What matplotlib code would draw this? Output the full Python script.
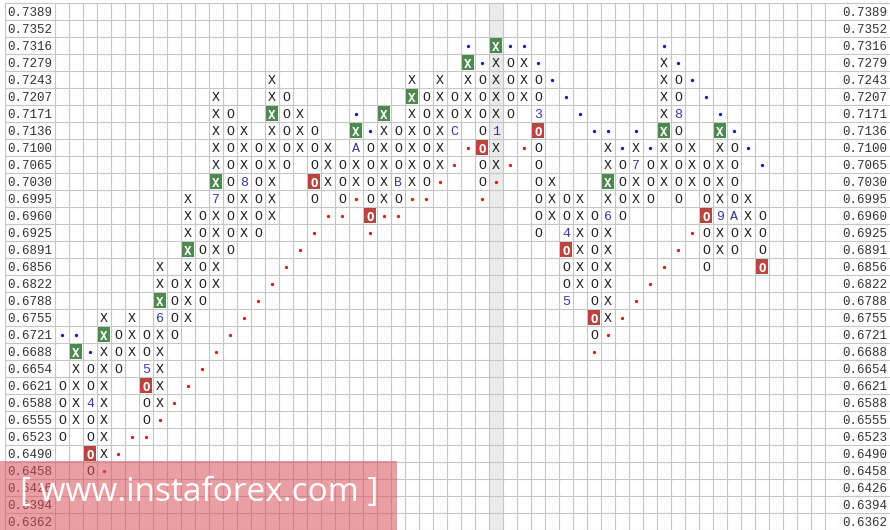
import matplotlib
matplotlib.use("Agg")
import matplotlib.pyplot as plt
from matplotlib.patches import Rectangle
import numpy as np

# ---------------- data ----------------
price_levels = ['0.7389', '0.7352', '0.7316', '0.7279', '0.7243', '0.7207', '0.7171',
                '0.7136', '0.7100', '0.7065', '0.7030', '0.6995', '0.6960', '0.6925',
                '0.6891', '0.6856', '0.6822', '0.6788', '0.6755', '0.6721', '0.6688',
                '0.6654', '0.6621', '0.6588', '0.6555', '0.6523', '0.6490', '0.6458',
                '0.6426', '0.6394', '0.6362']

col_types = list("OX" * 25 + "O")

col_high = ['0.6621', '0.6688', '0.6654', '0.6755', '0.6721', '0.6755', '0.6721', '0.6856',
            '0.6822', '0.6995', '0.6960', '0.7207', '0.7171', '0.7136', '0.7100', '0.7243',
            '0.7207', '0.7171', '0.7136', '0.7100', '0.7065', '0.7136', '0.7100', '0.7171',
            '0.7136', '0.7243', '0.7207', '0.7243', '0.7207', '0.7279', '0.7243', '0.7316',
            '0.7279', '0.7279', '0.7243', '0.7030', '0.6995', '0.6995', '0.6960', '0.7100',
            '0.7065', '0.7100', '0.7065', '0.7279', '0.7243', '0.7100', '0.7065', '0.7136',
            '0.7100', '0.6995', '0.6960']
col_low = ['0.6523', '0.6555', '0.6458', '0.6490', '0.6654', '0.6688', '0.6555', '0.6588',
           '0.6721', '0.6755', '0.6788', '0.6822', '0.6891', '0.6925', '0.6925', '0.6960',
           '0.7065', '0.7100', '0.6995', '0.7030', '0.6995', '0.7030', '0.6960', '0.6995',
           '0.6995', '0.7030', '0.7030', '0.7065', '0.7136', '0.7171', '0.7030', '0.7065',
           '0.7171', '0.7207', '0.6925', '0.6960', '0.6788', '0.6822', '0.6721', '0.6755',
           '0.6960', '0.6995', '0.6995', '0.7030', '0.6995', '0.7030', '0.6856', '0.6891',
           '0.6891', '0.6925', '0.6856']

# month markers (column, price, label)
mark_cols = [2, 6, 7, 11, 13, 21, 24, 28, 31, 34, 36, 36, 39, 41, 44, 47, 48]
mark_prices = ['0.6588', '0.6654', '0.6755', '0.6995', '0.7030', '0.7100', '0.7030', '0.7136',
               '0.7136', '0.7171', '0.6925', '0.6788', '0.6960', '0.7065', '0.7171', '0.6960',
               '0.6960']
mark_labels = ['4', '5', '6', '7', '8', 'A', 'B', 'C', '1', '3', '4', '5', '6', '7', '8', '9', 'A']

# buy signals (green boxes)
buy_cols = [1, 3, 7, 9, 11, 15, 21, 23, 25, 29, 31, 39, 43, 47]
buy_prices = ['0.6688', '0.6721', '0.6788', '0.6891', '0.7030', '0.7171', '0.7136', '0.7171',
              '0.7207', '0.7279', '0.7316', '0.7030', '0.7136', '0.7136']
# sell signals (red boxes)
sell_cols = [2, 6, 18, 22, 30, 34, 36, 38, 46, 50]
sell_prices = ['0.6490', '0.6621', '0.7030', '0.6960', '0.7100', '0.7136', '0.6891', '0.6755',
               '0.6960', '0.6856']

# trend lines
blue_cols = [0, 1, 2, 21, 22, 29, 30, 32, 33, 34, 35, 36, 37, 38, 39, 40, 41, 42,
             43, 44, 45, 46, 47, 48, 49, 50]
blue_prices = ['0.6721', '0.6721', '0.6688', '0.7171', '0.7136', '0.7316', '0.7279', '0.7316',
               '0.7316', '0.7279', '0.7243', '0.7207', '0.7171', '0.7136', '0.7136', '0.7100',
               '0.7136', '0.7100', '0.7316', '0.7279', '0.7243', '0.7207', '0.7171', '0.7136',
               '0.7100', '0.7065']
red_cols = [3, 4, 5, 6, 7, 8, 9, 10, 11, 12, 13, 14, 15, 16, 17, 18, 19, 20, 21, 22, 23, 24,
            25, 26, 27, 28, 29, 30, 31, 32, 33, 38, 39, 40, 41, 42, 43, 44, 45]
red_prices = ['0.6458', '0.6490', '0.6523', '0.6523', '0.6555', '0.6588', '0.6621', '0.6654',
              '0.6688', '0.6721', '0.6755', '0.6788', '0.6822', '0.6856', '0.6891', '0.6925',
              '0.6960', '0.6960', '0.6995', '0.6925', '0.6960', '0.6960', '0.6995', '0.6995',
              '0.7030', '0.7065', '0.7100', '0.6995', '0.7030', '0.7065', '0.7100', '0.6688',
              '0.6721', '0.6755', '0.6788', '0.6822', '0.6856', '0.6891', '0.6925']

current_col = 31
n_grid_cols = 56

# ---------------- drawing ----------------
W, H = 890, 530
fig = plt.figure(figsize=(W / 100, H / 100), dpi=100)
fig.patch.set_facecolor('white')
ax = fig.add_axes([55 / W, 0, 784 / W, (H - 3.2) / H])
ax.set_xlim(-0.5, n_grid_cols - 0.5)
ax.set_ylim(len(price_levels) - 0.5, -0.5)
for s in ax.spines.values():
    s.set_visible(False)

row = {p: i for i, p in enumerate(price_levels)}
grid_c = '#c6c6c6'
mono = 'Liberation Mono'

ax.axvspan(current_col - 0.5, current_col + 0.5, color='#ebebeb', zorder=0, lw=0)
ax.vlines(np.arange(-0.5, n_grid_cols), -0.5, len(price_levels) - 0.5,
          color=grid_c, lw=0.8, zorder=1)
ax.hlines(np.arange(-0.5, len(price_levels)), -50 / 784, 835 / 784,
          transform=ax.get_yaxis_transform(), color=grid_c, lw=0.8, zorder=1, clip_on=False)
ax.plot([-50 / 784, -50 / 784], [0, 1], transform=ax.transAxes, color=grid_c, lw=0.8,
        clip_on=False)

ax.set_xticks([])
ax.set_yticks(range(len(price_levels)))
ax.set_yticklabels(price_levels, fontfamily=mono, fontsize=9, color='#333333')
ax.tick_params(axis='y', length=0, pad=2.2, labelleft=True, labelright=True)

special = {}
for c, p, l in zip(mark_cols, mark_prices, mark_labels):
    special[(c, row[p])] = ('mark', l)
for c, p in zip(buy_cols, buy_prices):
    lab = special.get((c, row[p]), (None, 'X'))[1]
    special[(c, row[p])] = ('buy', lab)
for c, p in zip(sell_cols, sell_prices):
    lab = special.get((c, row[p]), (None, 'O'))[1]
    special[(c, row[p])] = ('sell', lab)

for c, (t, hi, lo) in enumerate(zip(col_types, col_high, col_low)):
    for r in range(row[hi], row[lo] + 1):
        kind, lab = special.get((c, r), (None, t))
        if kind in ('buy', 'sell'):
            fc = '#4d8a4f' if kind == 'buy' else '#b8463f'
            ax.add_patch(Rectangle((c - 0.45, r - 0.45), 0.9, 0.9, facecolor=fc,
                                   edgecolor='none', zorder=2))
            ax.text(c, r, lab, ha='center', va='center_baseline', fontfamily='DejaVu Sans Mono',
                    fontsize=9, fontweight='bold', color='white', zorder=3)
        elif kind == 'mark':
            ax.text(c, r, lab, ha='center', va='center_baseline', fontfamily=mono,
                    fontsize=9.5, color='#3838a8', zorder=3)
        else:
            ax.text(c, r, lab, ha='center', va='center_baseline', fontfamily=mono,
                    fontsize=9.5, color='#1e1e1e', zorder=3)

ax.plot(blue_cols, [row[p] for p in blue_prices], 'o', ms=2.4, color='#1c1ca0',
        mec='none', zorder=3)
ax.plot(red_cols, [row[p] for p in red_prices], 'o', ms=2.4, color='#c42a24',
        mec='none', zorder=3)

# watermark
fig.patches.append(Rectangle((0, 0), 397 / W, (H - 461) / H, transform=fig.transFigure,
                             facecolor='#d9505a', alpha=0.55, edgecolor='none', zorder=10))
fig.text(199 / W, 1 - 492 / H, '[ www.instaforex.com ]', fontsize=24, color='white',
         fontfamily='Open Sans', ha='center', va='center', zorder=11)

fig.savefig('out.png', dpi=100, facecolor='white')
